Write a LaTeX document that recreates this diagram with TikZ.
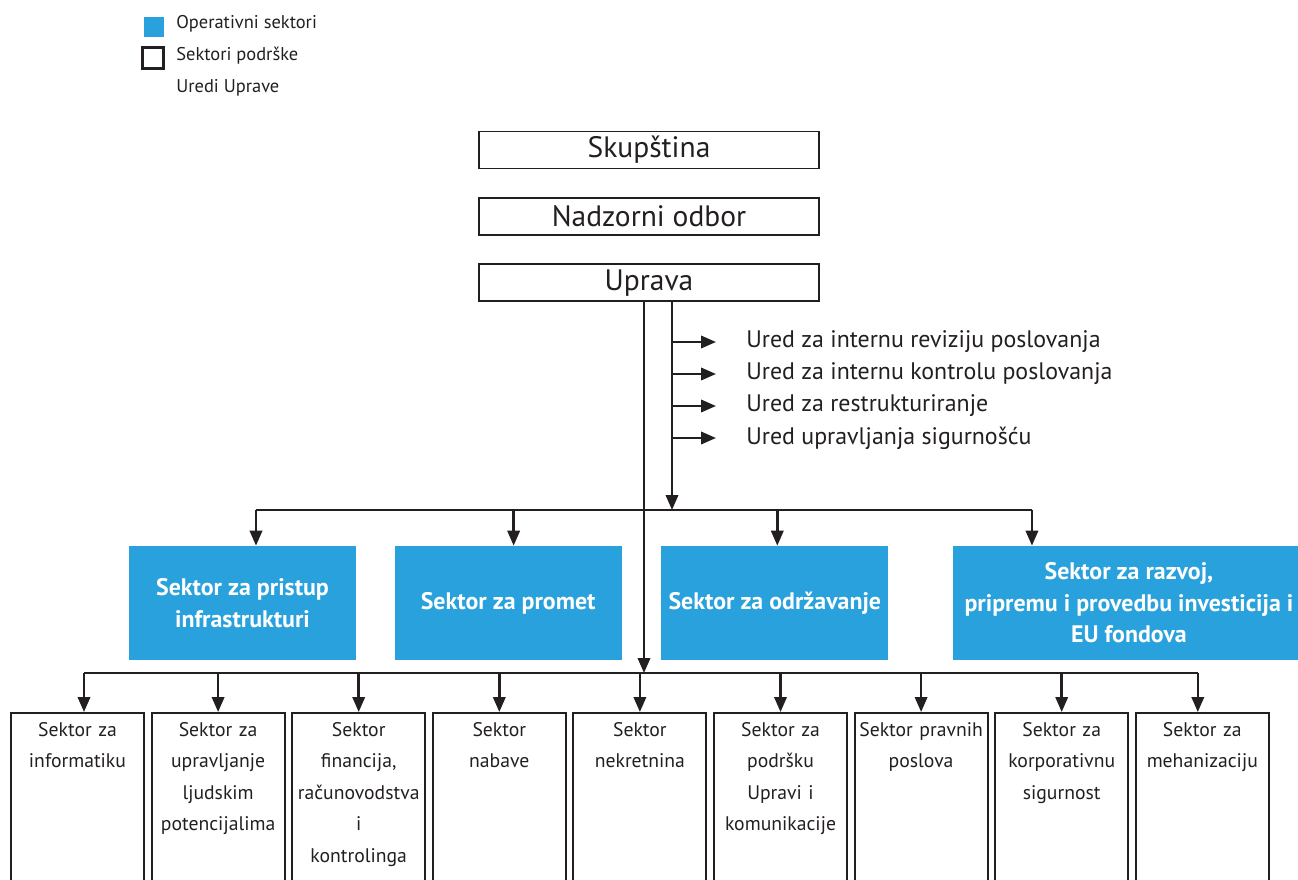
\documentclass[tikz,border=0pt]{standalone}
\usepackage{fontspec}
\setmainfont{PT Sans}
\usetikzlibrary{arrows.meta,positioning}
\definecolor{opblue}{RGB}{41,161,220}
\definecolor{ink}{RGB}{35,31,32}
\begin{document}
\begin{tikzpicture}[
    x=0.02cm, y=-0.02cm,
    node distance=0.55cm,
    every node/.style={text=ink},
    line/.style={draw=ink, line width=1.4pt},
    arr/.style={line, -{Triangle[length=8.5pt,width=7pt]}},
    topbox/.style={rectangle, draw=ink, line width=1.1pt, minimum width=6.8cm, minimum height=0.74cm, inner sep=0pt, font=\fontsize{16.8}{19}\selectfont},
    opbox/.style={rectangle, fill=opblue, text=white, minimum width=4.54cm, minimum height=2.28cm, align=center, inner sep=0pt, font=\fontsize{13.6}{18}\selectfont\bfseries},
    supbox/.style={rectangle, draw=ink, line width=1.2pt, anchor=north, text width=2.66cm, align=center, inner xsep=0pt, inner ysep=0pt, text height=0.46cm, text depth=3.4cm, font=\fontsize{11.2}{18}\selectfont},
    ured/.style={anchor=west, inner sep=0pt, font=\fontsize{13.6}{16}\selectfont},
    legtext/.style={anchor=west, inner sep=0pt, font=\fontsize{10.5}{12}\selectfont}
]
    \clip (0,0) rectangle (1298,879);

    \node[fill=opblue, minimum size=0.4cm, inner sep=0pt] (legop) at (154,27) {};
    \node[draw=ink, line width=1.6pt, minimum size=0.42cm, inner sep=0pt] (legsup) at (153,58) {};
    \node[legtext] (legoptext) at (176,24) {Operativni sektori};
    \node[legtext] (legsuptext) at (176,56) {Sektori podrške};
    \node[legtext] (leguredtext) at (176,88) {Uredi Uprave};

    \node[topbox] (skupstina) at (649,150) {Skupština};
    \node[topbox, below=of skupstina] (nadzor) {Nadzorni odbor};
    \node[topbox, below=of nadzor] (uprava) {Uprava};

    \coordinate (vl) at (644,0);
    \coordinate (vr) at (672,0);
    \coordinate (busA) at (0,510);
    \coordinate (busB) at (0,673);

    \foreach \t [count=\i] in {Ured za internu reviziju poslovanja, Ured za internu kontrolu poslovanja, Ured za restrukturiranje, Ured upravljanja sigurnošću}
        \node[ured] (ured\i) at (746,310+32*\i) {\t};
    \foreach \i in {1,...,4}
        \draw[arr] (ured\i.west -| vr) -- ([xshift=-0.6cm]ured\i.west);

    \node[opbox] (op1) at (242.5,603) {Sektor za pristup\\infrastrukturi};
    \node[opbox, right=0.76cm of op1] (op2) {Sektor za promet};
    \node[opbox, right=0.78cm of op2] (op3) {Sektor za održavanje};
    \node[opbox, minimum width=7.04cm, right=1.28cm of op3] (op4) {Sektor za razvoj,\\pripremu i provedbu investicija i\\EU fondova};

    \foreach \t [count=\i] in {{Sektor za\\informatiku}, {Sektor za\\upravljanje\\ljudskim\\potencijalima}, {Sektor\\financija,\\računovodstva\\i\\kontrolinga}, {Sektor\\nabave}, {Sektor\\nekretnina}, {Sektor za\\podršku\\Upravi i\\komunikacije}, {Sektor pravnih\\poslova}, {Sektor za\\korporativnu\\sigurnost}, {Sektor za\\mehanizaciju}}
        \node[supbox] (sup\i) at (140.6*\i-63.1,712) {\t};

    \draw[arr] (uprava.south -| vr) -- (vr |- busA);
    \draw[line] ([xshift=0.27cm]op1.north |- busA) -- ([xshift=-1.94cm]op4.north |- busA);
    \foreach \n/\s in {op1/0.27, op2/0.11, op3/0.05, op4/-1.94}
        \draw[arr] ([xshift=\s cm]\n.north |- busA) -- ([xshift=\s cm]\n.north);

    \draw[arr] (uprava.south -| vl) -- (vl |- busB);
    \draw[line] ([xshift=0.13cm]sup1.north |- busB) -- ([xshift=-0.09cm]sup9.north |- busB);
    \foreach \i/\s in {1/0.13, 2/0, 3/0, 4/0, 5/0, 6/0, 7/0, 8/0, 9/-0.09}
        \draw[arr] ([xshift=\s cm]sup\i.north |- busB) -- ([xshift=\s cm]sup\i.north);
\end{tikzpicture}
\end{document}
